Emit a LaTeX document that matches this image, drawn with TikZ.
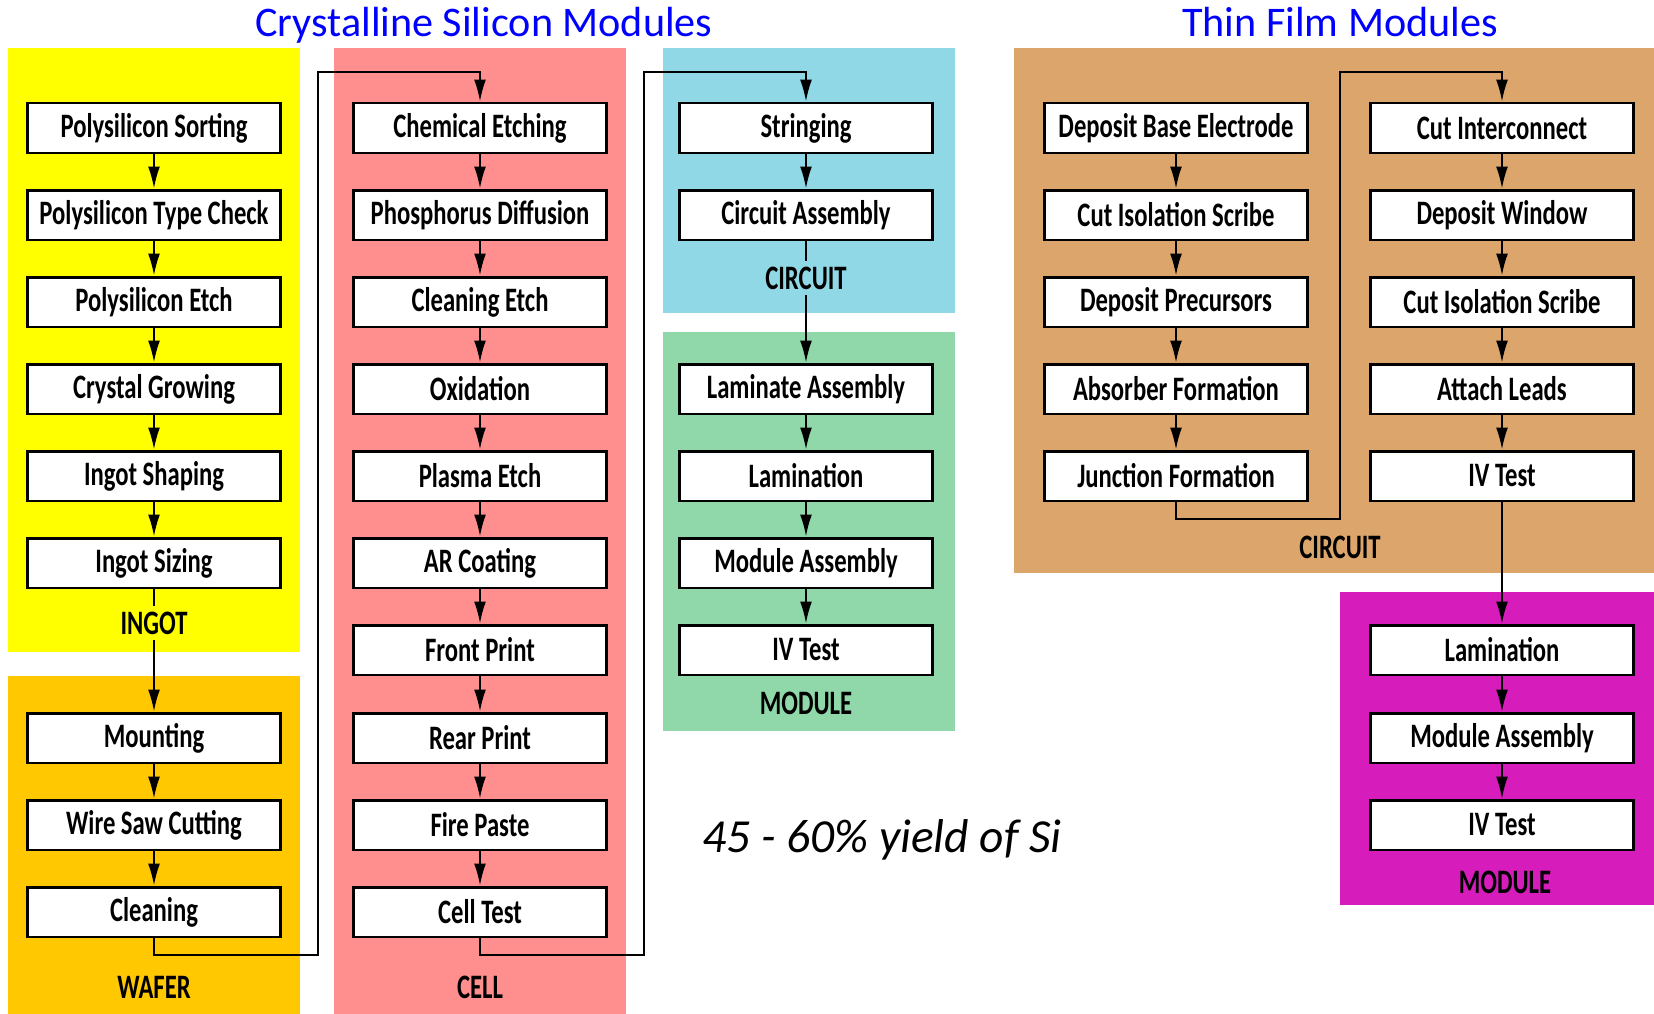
\documentclass[tikz,border=0pt]{standalone}
\usepackage{fontspec}
\setmainfont{Carlito}
\newfontfamily\stepfont[FakeStretch=0.72]{Carlito}
\usetikzlibrary{arrows.meta}
\definecolor{ingotcol}{RGB}{255,255,0}
\definecolor{wafercol}{RGB}{255,200,0}
\definecolor{cellcol}{RGB}{255,143,143}
\definecolor{circuitcol}{RGB}{144,216,230}
\definecolor{modulecol}{RGB}{144,216,170}
\definecolor{tfcircuitcol}{RGB}{220,165,107}
\definecolor{tfmodulecol}{RGB}{214,28,186}
\definecolor{titlecol}{RGB}{0,0,255}
\tikzset{
  stepbox/.style={draw, line width=1.7pt, fill=white, minimum width=5.08cm,
    minimum height=1cm, inner sep=0pt,
    font=\stepfont\bfseries\fontsize{19.5}{21}\selectfont},
  tfbox/.style={stepbox, minimum width=5.28cm},
  stagelabel/.style={inner sep=3pt, font=\stepfont\bfseries\fontsize{19.5}{21}\selectfont},
  flow/.style={line width=1.1pt, -{Latex[length=0.44cm,width=0.24cm]}},
  link/.style={line width=1.1pt},
  headtitle/.style={anchor=base, text=titlecol, font=\fontsize{24}{28}\selectfont}
}
\begin{document}
\begin{tikzpicture}[x=0.02cm, y=-0.02cm]
            \useasboundingbox (0,0) rectangle (1654,1014);
            % stage panels
            \fill[ingotcol] (8,48) rectangle (300,652);
            \fill[wafercol] (8,676) rectangle (300,1014);
            \fill[cellcol] (334,48) rectangle (626,1014);
            \fill[circuitcol] (663,48) rectangle (955,313);
            \fill[modulecol] (663,332) rectangle (955,731);
            \fill[tfcircuitcol] (1014,48) rectangle (1654,573);
            \fill[tfmodulecol] (1340,592) rectangle (1654,905);
            % titles
            \draw (484,36) node[headtitle](cstitle){Crystalline Silicon Modules} ;
            \draw (1340,36) node[headtitle](tftitle){Thin Film Modules} ;
            % ingot + wafer
            \draw (154,128) node[stepbox](ps){Polysilicon Sorting} ;
            \draw (154,215) node[stepbox](pt){Polysilicon Type Check} ;
            \draw (154,302) node[stepbox](pe){Polysilicon Etch} ;
            \draw (154,389) node[stepbox](cg){Crystal Growing} ;
            \draw (154,476) node[stepbox](is){Ingot Shaping} ;
            \draw (154,563) node[stepbox](iz){Ingot Sizing} ;
            \draw (154,623) node[stagelabel](ingot){INGOT} ;
            \draw (154,738) node[stepbox](mo){Mounting} ;
            \draw (154,825) node[stepbox](ws){Wire Saw Cutting} ;
            \draw (154,912) node[stepbox](cl){Cleaning} ;
            \draw (154,987) node[stagelabel](wafer){WAFER} ;
            % cell
            \draw (480,128) node[stepbox](ce){Chemical Etching} ;
            \draw (480,215) node[stepbox](pd){Phosphorus Diffusion} ;
            \draw (480,302) node[stepbox](cn){Cleaning Etch} ;
            \draw (480,389) node[stepbox](ox){Oxidation} ;
            \draw (480,476) node[stepbox](pl){Plasma Etch} ;
            \draw (480,563) node[stepbox](ar){AR Coating} ;
            \draw (480,650) node[stepbox](fp){Front Print} ;
            \draw (480,738) node[stepbox](rp){Rear Print} ;
            \draw (480,825) node[stepbox](fi){Fire Paste} ;
            \draw (480,912) node[stepbox](ct){Cell Test} ;
            \draw (480,987) node[stagelabel](cell){CELL} ;
            % circuit + module
            \draw (806,128) node[stepbox](st){Stringing} ;
            \draw (806,215) node[stepbox](ca){Circuit Assembly} ;
            \draw (806,278) node[stagelabel](circ){CIRCUIT} ;
            \draw (806,389) node[stepbox](la){Laminate Assembly} ;
            \draw (806,476) node[stepbox](lm){Lamination} ;
            \draw (806,563) node[stepbox](ma){Module Assembly} ;
            \draw (806,650) node[stepbox](iv){IV Test} ;
            \draw (806,703) node[stagelabel](modl){MODULE} ;
            % thin film circuit
            \draw (1176,128) node[tfbox](db){Deposit Base Electrode} ;
            \draw (1176,215) node[tfbox](ci){Cut Isolation Scribe} ;
            \draw (1176,302) node[tfbox](dp){Deposit Precursors} ;
            \draw (1176,389) node[tfbox](af){Absorber Formation} ;
            \draw (1176,476) node[tfbox](jf){Junction Formation} ;
            \draw (1502,128) node[tfbox](cu){Cut Interconnect} ;
            \draw (1502,215) node[tfbox](dw){Deposit Window} ;
            \draw (1502,302) node[tfbox](cs){Cut Isolation Scribe} ;
            \draw (1502,389) node[tfbox](at){Attach Leads} ;
            \draw (1502,476) node[tfbox](tv){IV Test} ;
            \draw (1340,547) node[stagelabel](tfcirc){CIRCUIT} ;
            % thin film module
            \draw (1502,650) node[tfbox](tl){Lamination} ;
            \draw (1502,738) node[tfbox](tm){Module Assembly} ;
            \draw (1502,825) node[tfbox](tt){IV Test} ;
            \draw (1505,882) node[stagelabel](tfmodl){MODULE} ;
            % yield note
            \draw (882,840) node[font=\itshape\fontsize{27}{30}\selectfont](yield){45 - 60\% yield of Si} ;
            % Arrows
            \foreach \a/\b in {ps/pt, pt/pe, pe/cg, cg/is, is/iz, mo/ws, ws/cl,
                ce/pd, pd/cn, cn/ox, ox/pl, pl/ar, ar/fp, fp/rp, rp/fi, fi/ct,
                st/ca, la/lm, lm/ma, ma/iv,
                db/ci, ci/dp, dp/af, af/jf, cu/dw, dw/cs, cs/at, at/tv,
                tv/tl, tl/tm, tm/tt}
              \draw[flow] (\a) -- (\b) ;
            \draw[link] (iz) -- (ingot) ;
            \draw[flow] (ingot) -- (mo) ;
            \draw[link] (ca) -- (circ) ;
            \draw[flow] (circ) -- (la) ;
            % jumps between columns
            \draw[flow] (cl.south) |- (318,955) -- (318,72) -| (ce.north) ;
            \draw[flow] (ct.south) |- (644,955) -- (644,72) -| (st.north) ;
            \draw[flow] (jf.south) |- (1340,519) -- (1340,72) -| (cu.north) ;
        \end{tikzpicture}
\end{document}
